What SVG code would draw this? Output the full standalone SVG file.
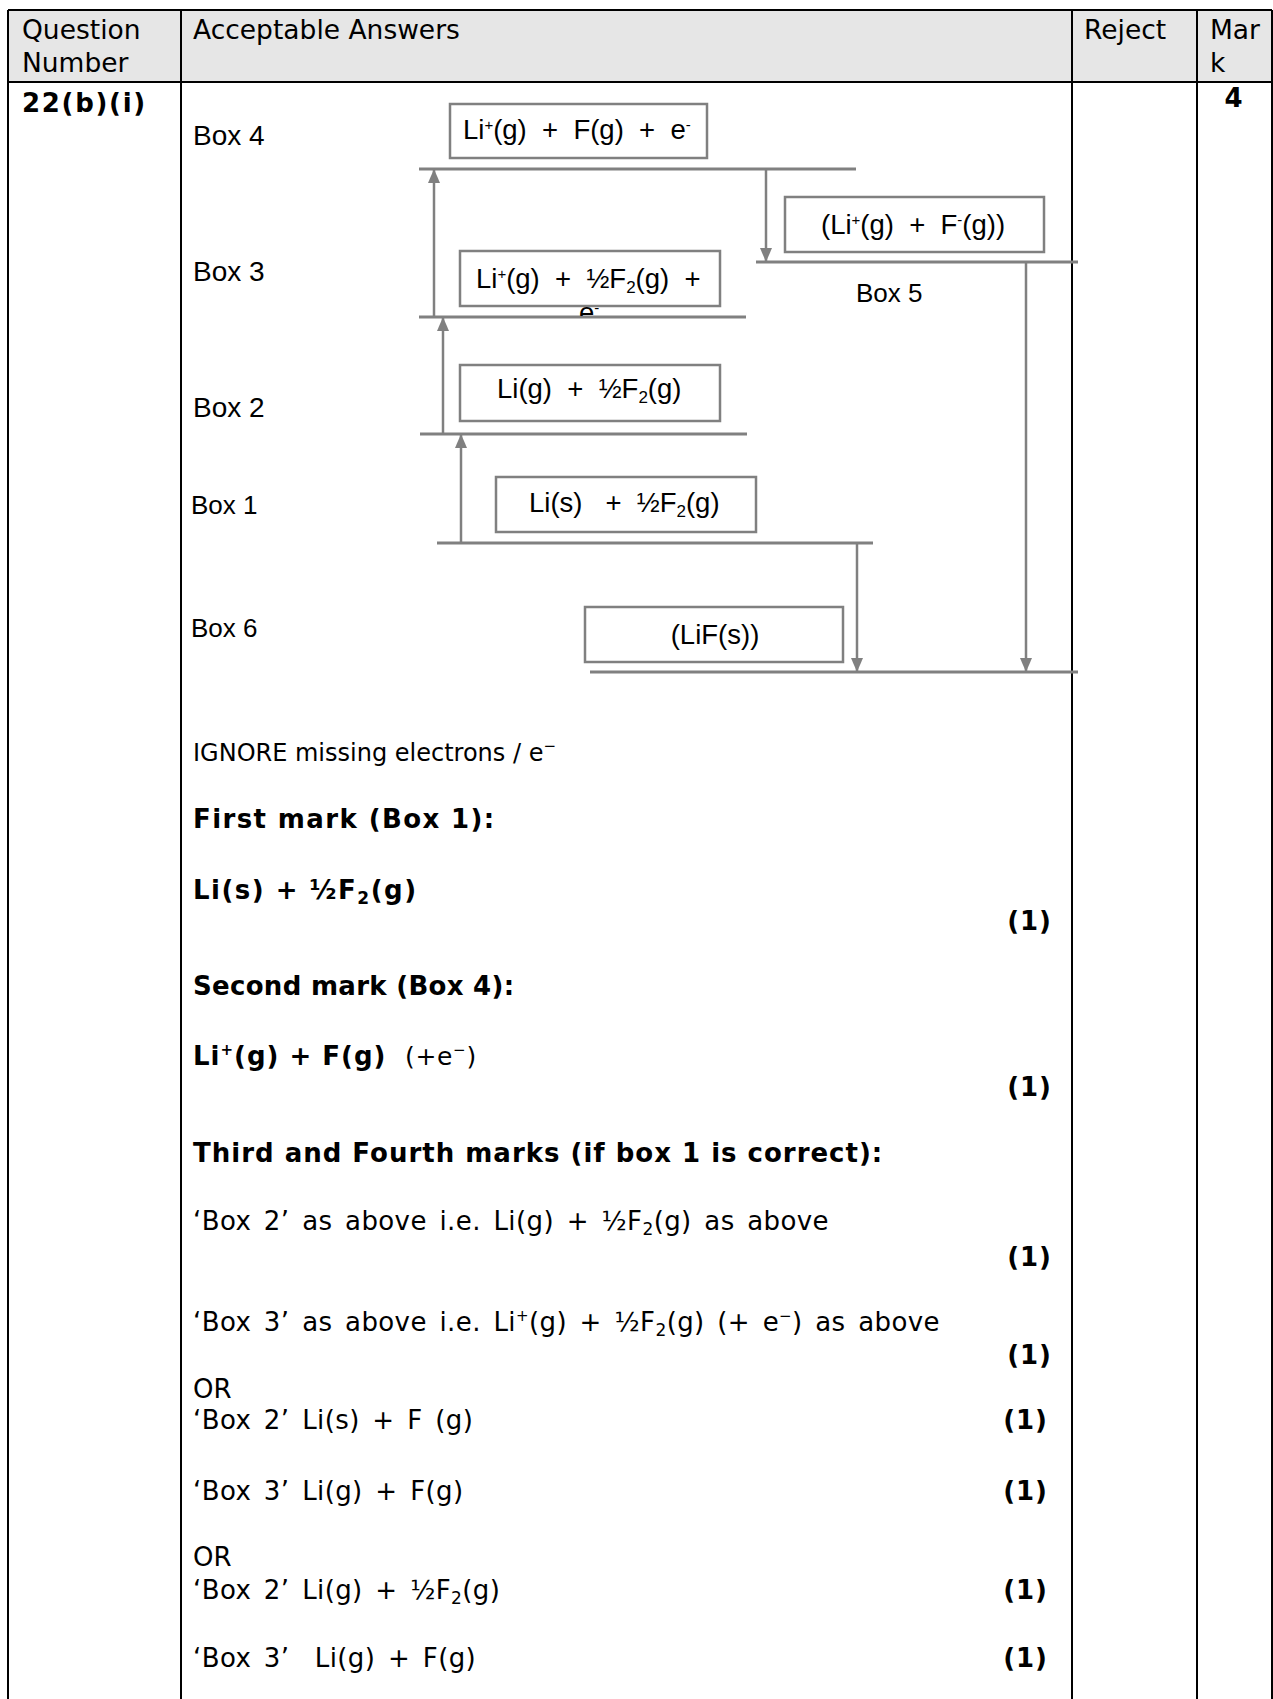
<svg xmlns="http://www.w3.org/2000/svg" width="1273" height="1699" viewBox="0 0 1273 1699">
<style>
.v{font-family:"DejaVu Sans",Verdana,sans-serif;font-size:26px;fill:#000}
.vh{font-family:"DejaVu Sans",Verdana,sans-serif;font-size:26.5px;fill:#000}
.vi{font-family:"DejaVu Sans",Verdana,sans-serif;font-size:24px;fill:#000}
.vq{font-family:"DejaVu Sans",Verdana,sans-serif;font-size:26px;word-spacing:4px;letter-spacing:0.4px;fill:#000}
.vb{font-family:"DejaVu Sans",Verdana,sans-serif;font-size:26px;font-weight:bold;letter-spacing:1px;fill:#000}
.a{font-family:"Liberation Sans",Arial,sans-serif;font-size:27.5px;fill:#000}
.al{font-family:"Liberation Sans",Arial,sans-serif;font-size:28px;fill:#000}
.as{font-family:"Liberation Sans",Arial,sans-serif;font-size:26px;fill:#000}
.sup{font-size:15px}
.sub{font-size:17px}
.grid{stroke:#000;stroke-width:2;fill:none}
.box{fill:#fff;stroke:#808080;stroke-width:2.5}
.lvl{stroke:#808080;stroke-width:3}
.arr{stroke:#808080;stroke-width:2.5;fill:none;marker-end:url(#ah)}
</style>
<defs>
<marker id="ah" markerWidth="14" markerHeight="14" viewBox="0 0 14 12" refX="14" refY="6" orient="auto" markerUnits="userSpaceOnUse" style="overflow:visible">
<path d="M0,0 L14,6 L0,12 z" fill="#808080"/>
</marker>
<clipPath id="clipE"><rect x="560" y="300" width="60" height="16"/></clipPath>
</defs>
<rect width="1273" height="1699" fill="#fff"/>
<g id="table">
<rect x="8" y="10" width="1264" height="72" fill="#e6e6e6"/>
<path class="grid" d="M8,10 H1272 M8,82 H1272 M8,10 V1699 M181,10 V1699 M1072,10 V1699 M1197,10 V1699 M1272,10 V1699"/>
<text class="vh" x="22" y="39">Question</text>
<text class="vh" x="22" y="72">Number</text>
<text class="vh" x="193" y="39">Acceptable Answers</text>
<text class="vh" x="1084" y="39">Reject</text>
<text class="vh" x="1210" y="39">Mar</text>
<text class="vh" x="1210" y="72">k</text>
<text class="vb" x="22" y="112" style="letter-spacing:1.7px">22(b)(i)</text>
<text class="vb" x="1234" y="107" text-anchor="middle">4</text>
</g>
<g id="labels">
<text class="al" x="193" y="145">Box 4</text>
<text class="al" x="193" y="281">Box 3</text>
<text class="al" x="193" y="417">Box 2</text>
<text class="as" x="191" y="514">Box 1</text>
<text class="as" x="191" y="637">Box 6</text>
<text class="as" x="856" y="302">Box 5</text>
</g>
<g id="connectors">
<line class="lvl" x1="419" y1="169" x2="856" y2="169"/>
<line class="lvl" x1="756" y1="262" x2="1078" y2="262"/>
<line class="lvl" x1="419" y1="317" x2="746" y2="317"/>
<line class="lvl" x1="420" y1="434" x2="747" y2="434"/>
<line class="lvl" x1="437" y1="543" x2="873" y2="543"/>
<line class="lvl" x1="590" y1="672" x2="1078" y2="672"/>
<line class="arr" x1="434" y1="317" x2="434" y2="169"/>
<line class="arr" x1="443" y1="434" x2="443" y2="317"/>
<line class="arr" x1="461" y1="543" x2="461" y2="434"/>
<line class="arr" x1="766" y1="169" x2="766" y2="262"/>
<line class="arr" x1="1026" y1="262" x2="1026" y2="672"/>
<line class="arr" x1="857" y1="543" x2="857" y2="672"/>
</g>
<g id="box4">
<rect class="box" x="450" y="104" width="257" height="54"/>
<text class="a" x="463" y="139" xml:space="preserve">Li<tspan class="sup" dy="-9">+</tspan><tspan dy="9">(g)  +  F(g)  +  e</tspan><tspan class="sup" dy="-9">-</tspan></text>
</g>
<g id="box5">
<rect class="box" x="785" y="197" width="259" height="55"/>
<text class="a" x="821" y="234" xml:space="preserve">(Li<tspan class="sup" dy="-9">+</tspan><tspan dy="9">(g)  +  F</tspan><tspan class="sup" dy="-9">-</tspan><tspan dy="9">(g))</tspan></text>
</g>
<g id="box3">
<rect class="box" x="460" y="251" width="260" height="55"/>
<text class="a" x="476" y="288" xml:space="preserve">Li<tspan class="sup" dy="-9">+</tspan><tspan dy="9">(g)  +  ½F</tspan><tspan class="sub" dy="5">2</tspan><tspan dy="-5">(g)  +</tspan></text>
<text class="a" x="579" y="322" clip-path="url(#clipE)">e<tspan class="sup" dy="-9">-</tspan></text>
</g>
<g id="box2">
<rect class="box" x="460" y="365" width="260" height="56"/>
<text class="a" x="497" y="398" xml:space="preserve">Li(g)  +  ½F<tspan class="sub" dy="5">2</tspan><tspan dy="-5">(g)</tspan></text>
</g>
<g id="box1">
<rect class="box" x="496" y="477" width="260" height="55"/>
<text class="a" x="529" y="512" xml:space="preserve">Li(s)   +  ½F<tspan class="sub" dy="5">2</tspan><tspan dy="-5">(g)</tspan></text>
</g>
<g id="box6">
<rect class="box" x="585" y="607" width="258" height="55"/>
<text class="a" x="715" y="644" text-anchor="middle">(LiF(s))</text>
</g>
<g id="body">
<text class="vi" x="193" y="761">IGNORE missing electrons / e<tspan class="sup" dy="-10">−</tspan></text>
<text class="vb" x="193" y="828" style="letter-spacing:1.4px">First mark (Box 1):</text>
<text class="vb" x="193" y="899" style="letter-spacing:1.5px">Li(s) + ½F<tspan class="sub" dy="5">2</tspan><tspan dy="-5">(g)</tspan></text>
<text class="vb" x="1052" y="930" text-anchor="end">(1)</text>
<text class="vb" x="193" y="995" style="letter-spacing:0.3px">Second mark (Box 4):</text>
<text class="vb" x="193" y="1065" xml:space="preserve">Li<tspan class="sup" dy="-10">+</tspan><tspan dy="10">(g) + F(g) </tspan><tspan font-weight="normal" font-size="25" letter-spacing="0.6"> (+e</tspan><tspan class="sup" font-weight="normal" dy="-10">−</tspan><tspan font-weight="normal" font-size="25" dy="10">)</tspan></text>
<text class="vb" x="1052" y="1096" text-anchor="end">(1)</text>
<text class="vb" x="193" y="1162">Third and Fourth marks (if box 1 is correct):</text>
<text class="vq" x="193" y="1230">‘Box 2’ as above i.e. Li(g) + ½F<tspan class="sub" dy="5">2</tspan><tspan dy="-5">(g) as above</tspan></text>
<text class="vb" x="1052" y="1266" text-anchor="end">(1)</text>
<text class="vq" x="193" y="1331">‘Box 3’ as above i.e. Li<tspan class="sup" dy="-10">+</tspan><tspan dy="10">(g) + ½F</tspan><tspan class="sub" dy="5">2</tspan><tspan dy="-5">(g) (+ e</tspan><tspan class="sup" dy="-10">−</tspan><tspan dy="10">) as above</tspan></text>
<text class="vb" x="1052" y="1364" text-anchor="end">(1)</text>
<text class="v" x="193" y="1398">OR</text>
<text class="vq" x="193" y="1429">‘Box 2’ Li(s) + F (g)</text>
<text class="vb" x="1048" y="1429" text-anchor="end">(1)</text>
<text class="vq" x="193" y="1500">‘Box 3’ Li(g) + F(g)</text>
<text class="vb" x="1048" y="1500" text-anchor="end">(1)</text>
<text class="v" x="193" y="1566">OR</text>
<text class="vq" x="193" y="1599">‘Box 2’ Li(g) + ½F<tspan class="sub" dy="5">2</tspan><tspan dy="-5">(g)</tspan></text>
<text class="vb" x="1048" y="1599" text-anchor="end">(1)</text>
<text class="vq" x="193" y="1667" xml:space="preserve">‘Box 3’  Li(g) + F(g)</text>
<text class="vb" x="1048" y="1667" text-anchor="end">(1)</text>
</g>
</svg>
